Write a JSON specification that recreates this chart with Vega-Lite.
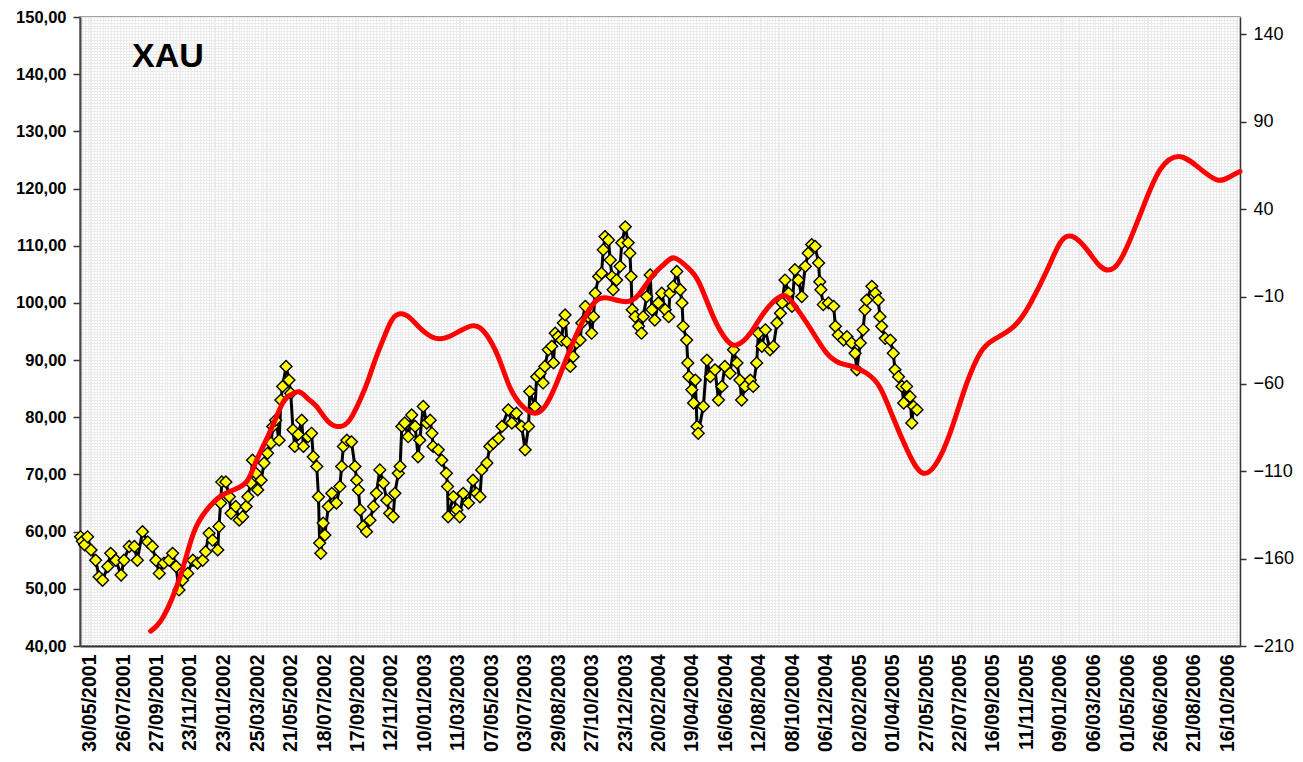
{
"$schema": "https://vega.github.io/schema/vega-lite/v6.json",
"width": 1160,
"height": 629,
"autosize": {"type": "none"},
"padding": {"left": 80, "top": 17, "right": 63, "bottom": 116},
"background": "white",
"config": {"view": {"stroke": "#8c8282", "strokeWidth": 1.5}, "font": "Liberation Sans"},
"title": {"text": "XAU", "anchor": "start", "frame": "group", "orient": "top", "offset": 0, "dx": 52, "dy": 92, "baseline": "alphabetic", "fontSize": 34, "fontWeight": "bold", "font": "Liberation Sans", "color": "black"},
"datasets": {
"xau": [
{"date":"2001-05-14","price":59.1},{"date":"2001-05-17","price":58.3},{"date":"2001-05-21","price":57.7},{"date":"2001-05-26","price":59.1},
{"date":"2001-06-01","price":56.8},{"date":"2001-06-09","price":55.0},{"date":"2001-06-15","price":52.1},{"date":"2001-06-21","price":51.5},
{"date":"2001-06-30","price":53.9},{"date":"2001-07-05","price":56.2},{"date":"2001-07-14","price":55.0},{"date":"2001-07-23","price":52.4},
{"date":"2001-07-28","price":55.0},{"date":"2001-08-06","price":57.4},{"date":"2001-08-15","price":57.4},{"date":"2001-08-20","price":55.0},
{"date":"2001-08-29","price":60.0},{"date":"2001-09-07","price":58.2},{"date":"2001-09-15","price":57.4},{"date":"2001-09-21","price":55.0},
{"date":"2001-09-27","price":52.7},{"date":"2001-10-05","price":54.5},{"date":"2001-10-14","price":55.0},{"date":"2001-10-20","price":56.2},
{"date":"2001-10-26","price":53.9},{"date":"2001-10-31","price":49.8},{"date":"2001-11-06","price":51.5},{"date":"2001-11-15","price":52.7},
{"date":"2001-11-24","price":55.0},{"date":"2001-12-02","price":54.5},{"date":"2001-12-11","price":55.0},{"date":"2001-12-16","price":56.5},
{"date":"2001-12-22","price":59.7},{"date":"2001-12-28","price":58.5},{"date":"2002-01-06","price":56.8},{"date":"2002-01-08","price":60.9},
{"date":"2002-01-11","price":65.0},{"date":"2002-01-13","price":68.7},{"date":"2002-01-20","price":68.7},{"date":"2002-01-26","price":66.1},
{"date":"2002-01-29","price":63.2},{"date":"2002-02-06","price":64.4},{"date":"2002-02-12","price":62.0},{"date":"2002-02-18","price":62.6},
{"date":"2002-02-24","price":64.4},{"date":"2002-02-27","price":66.1},{"date":"2002-03-04","price":68.5},{"date":"2002-03-07","price":72.5},
{"date":"2002-03-13","price":70.2},{"date":"2002-03-16","price":67.3},{"date":"2002-03-22","price":69.0},{"date":"2002-03-27","price":72.0},
{"date":"2002-04-02","price":73.7},{"date":"2002-04-08","price":75.5},{"date":"2002-04-11","price":78.4},{"date":"2002-04-16","price":79.5},
{"date":"2002-04-22","price":76.0},{"date":"2002-04-25","price":83.0},{"date":"2002-04-28","price":85.4},{"date":"2002-05-04","price":88.9},
{"date":"2002-05-09","price":86.5},{"date":"2002-05-12","price":84.2},{"date":"2002-05-16","price":77.8},{"date":"2002-05-19","price":74.9},
{"date":"2002-05-25","price":77.0},{"date":"2002-05-31","price":79.5},{"date":"2002-06-03","price":74.9},{"date":"2002-06-11","price":76.6},
{"date":"2002-06-17","price":77.2},{"date":"2002-06-20","price":73.1},{"date":"2002-06-26","price":71.4},{"date":"2002-06-29","price":66.1},
{"date":"2002-07-01","price":58.0},{"date":"2002-07-03","price":56.2},{"date":"2002-07-07","price":61.5},{"date":"2002-07-10","price":59.4},
{"date":"2002-07-16","price":64.4},{"date":"2002-07-22","price":66.7},{"date":"2002-07-30","price":65.0},{"date":"2002-08-05","price":67.9},
{"date":"2002-08-08","price":71.4},{"date":"2002-08-11","price":74.9},{"date":"2002-08-17","price":76.0},{"date":"2002-08-25","price":75.7},
{"date":"2002-08-31","price":71.4},{"date":"2002-09-03","price":69.0},{"date":"2002-09-06","price":67.3},{"date":"2002-09-09","price":63.8},
{"date":"2002-09-14","price":60.9},{"date":"2002-09-20","price":60.0},{"date":"2002-09-26","price":62.0},{"date":"2002-10-02","price":64.4},
{"date":"2002-10-07","price":66.7},{"date":"2002-10-13","price":70.8},{"date":"2002-10-19","price":68.5},{"date":"2002-10-25","price":65.5},
{"date":"2002-10-30","price":63.2},{"date":"2002-11-05","price":62.6},{"date":"2002-11-08","price":66.7},{"date":"2002-11-14","price":70.2},
{"date":"2002-11-17","price":71.4},{"date":"2002-11-20","price":78.4},{"date":"2002-11-25","price":79.0},{"date":"2002-12-01","price":76.6},
{"date":"2002-12-07","price":80.4},{"date":"2002-12-13","price":78.4},{"date":"2002-12-18","price":73.1},{"date":"2002-12-21","price":76.0},
{"date":"2002-12-27","price":81.9},{"date":"2003-01-02","price":79.0},{"date":"2003-01-08","price":79.5},{"date":"2003-01-11","price":77.2},
{"date":"2003-01-13","price":74.9},{"date":"2003-01-22","price":74.3},{"date":"2003-01-28","price":72.5},{"date":"2003-02-05","price":70.2},
{"date":"2003-02-07","price":67.9},{"date":"2003-02-08","price":62.6},{"date":"2003-02-17","price":66.1},{"date":"2003-02-23","price":63.8},
{"date":"2003-02-28","price":62.6},{"date":"2003-03-06","price":66.7},{"date":"2003-03-15","price":65.0},{"date":"2003-03-23","price":69.0},
{"date":"2003-03-29","price":66.7},{"date":"2003-04-04","price":66.1},{"date":"2003-04-07","price":70.8},{"date":"2003-04-16","price":72.0},
{"date":"2003-04-21","price":74.9},{"date":"2003-04-27","price":75.5},{"date":"2003-05-06","price":76.3},{"date":"2003-05-12","price":78.4},
{"date":"2003-05-23","price":81.3},{"date":"2003-05-29","price":79.0},{"date":"2003-06-06","price":80.7},{"date":"2003-06-15","price":78.4},
{"date":"2003-06-21","price":74.3},{"date":"2003-06-27","price":78.4},{"date":"2003-06-29","price":84.5},{"date":"2003-07-08","price":81.9},
{"date":"2003-07-11","price":87.1},{"date":"2003-07-17","price":87.7},{"date":"2003-07-22","price":86.0},{"date":"2003-07-25","price":88.9},
{"date":"2003-07-31","price":91.8},{"date":"2003-08-06","price":92.4},{"date":"2003-08-09","price":89.5},{"date":"2003-08-12","price":94.7},
{"date":"2003-08-17","price":94.1},{"date":"2003-08-23","price":93.5},{"date":"2003-08-26","price":96.5},{"date":"2003-08-29","price":97.9},
{"date":"2003-09-01","price":93.2},{"date":"2003-09-07","price":88.9},{"date":"2003-09-12","price":90.6},{"date":"2003-09-18","price":93.0},
{"date":"2003-09-24","price":93.5},{"date":"2003-09-27","price":96.5},{"date":"2003-10-03","price":99.4},{"date":"2003-10-08","price":97.6},
{"date":"2003-10-14","price":94.7},{"date":"2003-10-17","price":97.6},{"date":"2003-10-20","price":101.7},{"date":"2003-10-26","price":104.6},
{"date":"2003-10-31","price":105.2},{"date":"2003-11-03","price":109.3},{"date":"2003-11-06","price":111.6},{"date":"2003-11-12","price":111.0},
{"date":"2003-11-15","price":107.5},{"date":"2003-11-18","price":104.6},{"date":"2003-11-20","price":102.3},{"date":"2003-11-26","price":104.0},
{"date":"2003-12-02","price":106.4},{"date":"2003-12-05","price":110.5},{"date":"2003-12-11","price":113.3},{"date":"2003-12-16","price":110.5},
{"date":"2003-12-19","price":108.7},{"date":"2003-12-21","price":104.6},{"date":"2003-12-23","price":98.8},{"date":"2003-12-28","price":97.6},
{"date":"2004-01-03","price":95.9},{"date":"2004-01-08","price":94.7},{"date":"2004-01-11","price":97.6},{"date":"2004-01-17","price":101.1},
{"date":"2004-01-23","price":104.9},{"date":"2004-01-26","price":98.8},{"date":"2004-01-31","price":97.0},{"date":"2004-02-06","price":100.0},
{"date":"2004-02-12","price":101.7},{"date":"2004-02-18","price":98.8},{"date":"2004-02-24","price":97.6},{"date":"2004-02-26","price":101.7},
{"date":"2004-03-03","price":102.9},{"date":"2004-03-09","price":105.5},{"date":"2004-03-15","price":102.3},{"date":"2004-03-18","price":100.0},
{"date":"2004-03-20","price":95.9},{"date":"2004-03-26","price":93.5},{"date":"2004-03-28","price":89.5},{"date":"2004-03-30","price":87.1},
{"date":"2004-04-04","price":84.8},{"date":"2004-04-07","price":82.5},{"date":"2004-04-10","price":86.5},{"date":"2004-04-13","price":78.4},
{"date":"2004-04-15","price":77.2},{"date":"2004-04-24","price":81.9},{"date":"2004-04-30","price":90.0},{"date":"2004-05-06","price":87.1},
{"date":"2004-05-14","price":88.3},{"date":"2004-05-20","price":83.0},{"date":"2004-05-26","price":85.4},{"date":"2004-05-31","price":88.9},
{"date":"2004-06-09","price":87.7},{"date":"2004-06-15","price":91.8},{"date":"2004-06-21","price":89.5},{"date":"2004-06-26","price":86.5},
{"date":"2004-06-29","price":83.0},{"date":"2004-07-05","price":85.4},{"date":"2004-07-14","price":86.5},{"date":"2004-07-19","price":85.4},
{"date":"2004-07-25","price":89.5},{"date":"2004-07-28","price":94.7},{"date":"2004-08-03","price":92.4},{"date":"2004-08-09","price":95.3},
{"date":"2004-08-17","price":91.8},{"date":"2004-08-23","price":92.4},{"date":"2004-08-29","price":96.5},{"date":"2004-09-04","price":98.2},
{"date":"2004-09-07","price":100.0},{"date":"2004-09-12","price":104.0},{"date":"2004-09-18","price":101.7},{"date":"2004-09-24","price":99.4},
{"date":"2004-09-29","price":105.8},{"date":"2004-10-05","price":104.0},{"date":"2004-10-11","price":101.1},{"date":"2004-10-17","price":106.4},
{"date":"2004-10-22","price":108.7},{"date":"2004-10-28","price":110.2},{"date":"2004-11-03","price":109.9},{"date":"2004-11-09","price":107.0},
{"date":"2004-11-11","price":103.7},{"date":"2004-11-13","price":102.3},{"date":"2004-11-17","price":99.7},{"date":"2004-11-26","price":100.0},
{"date":"2004-12-05","price":99.4},{"date":"2004-12-08","price":95.9},{"date":"2004-12-13","price":94.4},{"date":"2004-12-22","price":93.5},
{"date":"2004-12-28","price":94.1},{"date":"2005-01-05","price":93.0},{"date":"2005-01-11","price":91.2},{"date":"2005-01-14","price":88.3},
{"date":"2005-01-20","price":93.0},{"date":"2005-01-25","price":95.3},{"date":"2005-01-28","price":98.8},{"date":"2005-01-31","price":100.5},
{"date":"2005-02-09","price":102.9},{"date":"2005-02-15","price":101.7},{"date":"2005-02-20","price":100.5},{"date":"2005-02-23","price":97.6},
{"date":"2005-02-26","price":95.9},{"date":"2005-03-04","price":93.8},{"date":"2005-03-13","price":93.5},{"date":"2005-03-18","price":91.2},
{"date":"2005-03-21","price":88.3},{"date":"2005-03-27","price":87.1},{"date":"2005-04-02","price":85.4},{"date":"2005-04-05","price":82.5},
{"date":"2005-04-10","price":85.4},{"date":"2005-04-16","price":83.6},{"date":"2005-04-19","price":79.0},{"date":"2005-04-22","price":81.9},
{"date":"2005-04-28","price":81.3}
],
"cycle": [
{"date":"2001-09-12","cycle":-201.5},{"date":"2001-10-04","cycle":-193.2},{"date":"2001-11-02","cycle":-170.3},{"date":"2001-11-25","cycle":-145.5},
{"date":"2001-12-18","cycle":-132.1},{"date":"2002-01-10","cycle":-124.5},{"date":"2002-02-02","cycle":-120.7},{"date":"2002-02-25","cycle":-115.9},
{"date":"2002-03-13","cycle":-104.5},{"date":"2002-04-05","cycle":-88.2},{"date":"2002-04-28","cycle":-71.0},{"date":"2002-05-11","cycle":-66.5},
{"date":"2002-05-26","cycle":-64.5},{"date":"2002-06-11","cycle":-68.5},{"date":"2002-06-26","cycle":-73.0},{"date":"2002-07-16","cycle":-81.6},
{"date":"2002-08-05","cycle":-84.4},{"date":"2002-08-22","cycle":-80.6},{"date":"2002-09-09","cycle":-69.1},{"date":"2002-09-23","cycle":-57.7},
{"date":"2002-10-05","cycle":-46.2},{"date":"2002-10-22","cycle":-31.9},{"date":"2002-11-03","cycle":-23.3},{"date":"2002-11-17","cycle":-19.9},
{"date":"2002-12-04","cycle":-22.2},{"date":"2002-12-21","cycle":-27.9},{"date":"2003-01-11","cycle":-33.1},{"date":"2003-02-03","cycle":-33.7},
{"date":"2003-03-01","cycle":-29.6},{"date":"2003-03-21","cycle":-26.8},{"date":"2003-04-04","cycle":-27.9},{"date":"2003-04-21","cycle":-34.8},
{"date":"2003-05-09","cycle":-47.4},{"date":"2003-05-26","cycle":-62.2},{"date":"2003-06-16","cycle":-72.6},{"date":"2003-07-08","cycle":-76.8},
{"date":"2003-07-25","cycle":-73.0},{"date":"2003-08-12","cycle":-61.5},{"date":"2003-09-04","cycle":-42.4},{"date":"2003-09-27","cycle":-25.2},
{"date":"2003-10-20","cycle":-12.9},{"date":"2003-11-12","cycle":-10.9},{"date":"2003-12-11","cycle":-12.9},{"date":"2004-01-03","cycle":-9.0},
{"date":"2004-01-26","cycle":1.5},{"date":"2004-02-18","cycle":9.1},{"date":"2004-03-06","cycle":12.0},{"date":"2004-03-29","cycle":6.3},
{"date":"2004-04-17","cycle":-2.3},{"date":"2004-05-11","cycle":-21.5},{"date":"2004-06-03","cycle":-34.8},{"date":"2004-06-21","cycle":-37.7},
{"date":"2004-07-14","cycle":-31.0},{"date":"2004-08-06","cycle":-19.5},{"date":"2004-09-04","cycle":-10.0},{"date":"2004-09-21","cycle":-11.9},
{"date":"2004-10-08","cycle":-19.5},{"date":"2004-10-31","cycle":-31.0},{"date":"2004-11-23","cycle":-42.4},{"date":"2004-12-16","cycle":-48.1},
{"date":"2005-01-08","cycle":-50.1},{"date":"2005-01-31","cycle":-53.9},{"date":"2005-02-23","cycle":-62.0},{"date":"2005-03-18","cycle":-79.5},
{"date":"2005-04-11","cycle":-97.8},{"date":"2005-05-09","cycle":-111.1},{"date":"2005-06-07","cycle":-101.6},{"date":"2005-06-30","cycle":-82.5},
{"date":"2005-07-23","cycle":-59.6},{"date":"2005-08-15","cycle":-42.4},{"date":"2005-09-07","cycle":-34.8},{"date":"2005-10-12","cycle":-27.2},
{"date":"2005-11-10","cycle":-13.8},{"date":"2005-12-09","cycle":5.3},{"date":"2005-12-31","cycle":20.6},{"date":"2006-01-21","cycle":24.4},
{"date":"2006-02-16","cycle":16.7},{"date":"2006-03-11","cycle":7.2},{"date":"2006-04-03","cycle":6.3},{"date":"2006-04-26","cycle":18.6},
{"date":"2006-05-24","cycle":41.5},{"date":"2006-06-22","cycle":62.6},{"date":"2006-07-24","cycle":70.2},{"date":"2006-08-25","cycle":64.5},
{"date":"2006-09-28","cycle":56.8},{"date":"2006-10-21","cycle":58.7},{"date":"2006-11-07","cycle":61.6}
]
},
"layer": [
{
"data": {"name": "xau"},
"encoding": {
"x": {"field": "date", "type": "temporal",
"scale": {"type": "utc", "domain": [{"year":2001,"month":5,"date":13,"utc":true},{"year":2006,"month":11,"date":7,"utc":true}]},
"axis": {"orient": "bottom", "title": null, "grid": false, "ticks": false, "labelFlush": false, "labelOverlap": false,
"values": [
{"year":2001,"month":5,"date":30,"utc":true},{"year":2001,"month":7,"date":27,"utc":true},{"year":2001,"month":9,"date":23,"utc":true},
{"year":2001,"month":11,"date":19,"utc":true},{"year":2002,"month":1,"date":16,"utc":true},{"year":2002,"month":3,"date":15,"utc":true},
{"year":2002,"month":5,"date":12,"utc":true},{"year":2002,"month":7,"date":9,"utc":true},{"year":2002,"month":9,"date":4,"utc":true},
{"year":2002,"month":11,"date":1,"utc":true},{"year":2002,"month":12,"date":29,"utc":true},{"year":2003,"month":2,"date":25,"utc":true},
{"year":2003,"month":4,"date":24,"utc":true},{"year":2003,"month":6,"date":20,"utc":true},{"year":2003,"month":8,"date":17,"utc":true},
{"year":2003,"month":10,"date":14,"utc":true},{"year":2003,"month":12,"date":11,"utc":true},{"year":2004,"month":2,"date":6,"utc":true},
{"year":2004,"month":4,"date":4,"utc":true},{"year":2004,"month":6,"date":1,"utc":true},{"year":2004,"month":7,"date":29,"utc":true},
{"year":2004,"month":9,"date":25,"utc":true},{"year":2004,"month":11,"date":21,"utc":true},{"year":2005,"month":1,"date":18,"utc":true},
{"year":2005,"month":3,"date":17,"utc":true},{"year":2005,"month":5,"date":14,"utc":true},{"year":2005,"month":7,"date":11,"utc":true},
{"year":2005,"month":9,"date":6,"utc":true},{"year":2005,"month":11,"date":3,"utc":true},{"year":2005,"month":12,"date":31,"utc":true},
{"year":2006,"month":2,"date":27,"utc":true},{"year":2006,"month":4,"date":26,"utc":true},{"year":2006,"month":6,"date":22,"utc":true},
{"year":2006,"month":8,"date":19,"utc":true},{"year":2006,"month":10,"date":16,"utc":true}
],
"labelExpr": "['30/05/2001','26/07/2001','27/09/2001','23/11/2001','23/01/2002','25/03/2002','21/05/2002','18/07/2002','17/09/2002','12/11/2002','10/01/2003','11/03/2003','07/05/2003','03/07/2003','29/08/2003','27/10/2003','23/12/2003','20/02/2004','19/04/2004','16/06/2004','12/08/2004','08/10/2004','06/12/2004','02/02/2005','01/04/2005','27/05/2005','22/07/2005','16/09/2005','11/11/2005','09/01/2006','06/03/2006','01/05/2006','26/06/2006','21/08/2006','16/10/2006'][round((datum.value - utc(2001,4,30)) / (1965 / 34 * 86400000))]",
"labelAngle": 270, "labelFontSize": 19.5, "labelFontWeight": "bold", "labelColor": "black", "labelFont": "Liberation Sans", "labelPadding": 8,
"domainColor": "#333333", "domainWidth": 2}
},
"y": {"field": "price", "type": "quantitative",
"scale": {"domain": [40, 150], "nice": false, "zero": false},
"axis": {"orient": "left", "title": null, "tickCount": 220, "labelOverlap": false, "labelFlush": false,
"labelExpr": "datum.value % 10 === 0 ? replace(format(datum.value, '.2f'), '.', ',') : ''",
"grid": true, "gridColor": "#ebebeb", "gridWidth": 1,
"tickOpacity": {"condition": {"test": "datum.value % 10 === 0", "value": 1}, "value": 0},
"tickSize": 7, "tickColor": "#333333", "tickWidth": 1.5,
"domainColor": "#4d4545", "domainWidth": 2,
"labelFontSize": 16.5, "labelFontWeight": "bold", "labelColor": "black", "labelFont": "Liberation Sans", "labelPadding": 7}
}
},
"layer": [
{"mark": {"type": "line", "color": "black", "strokeWidth": 3}},
{"mark": {"type": "point", "shape": "diamond", "size": 140, "filled": true, "fill": "#ffff00", "stroke": "black", "strokeWidth": 1.4, "opacity": 1}}
]
},
{
"data": {"name": "cycle"},
"mark": {"type": "line", "color": "#ff0000", "strokeWidth": 5, "interpolate": "natural", "strokeCap": "round"},
"encoding": {
"x": {"field": "date", "type": "temporal",
"axis": {"orient": "top", "title": null, "labels": false, "ticks": false, "domain": false, "grid": true, "gridColor": "#ebebeb", "gridWidth": 1, "tickCount": {"interval": "day", "step": 5}}},
"y": {"field": "cycle", "type": "quantitative",
"scale": {"domain": [-210, 150], "nice": false, "zero": false},
"axis": {"orient": "right", "title": null, "grid": false, "values": [-210, -160, -110, -60, -10, 40, 90, 140],
"tickSize": 6, "tickColor": "#333333", "tickWidth": 1.5, "domainColor": "#333333", "domainWidth": 1.5,
"labelFontSize": 18, "labelColor": "black", "labelFont": "Liberation Sans", "labelPadding": 7}}
}
}
],
"resolve": {"scale": {"y": "independent"}, "axis": {"x": "independent", "y": "independent"}}
}
